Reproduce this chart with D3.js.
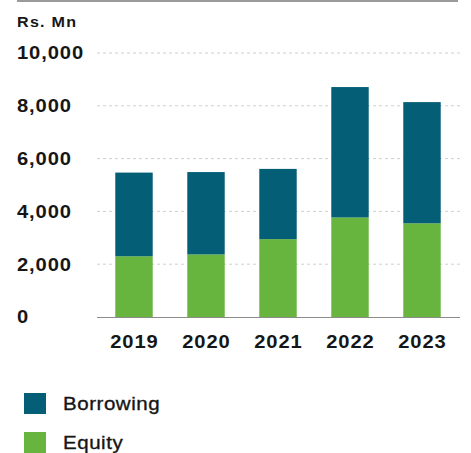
<!DOCTYPE html>
<html>
<head>
<meta charset="utf-8">
<script src="https://cdn.jsdelivr.net/npm/d3@7"></script>
<style>
  html, body { margin: 0; padding: 0; background: #fff; }
  svg { display: block; }
  text { font-family: "Liberation Sans", Arial, sans-serif; fill: #161616; }
</style>
</head>
<body>
<svg id="chart" width="471" height="453"></svg>
<script>
// Capital structure, Rs. Mn
const years = ["2019", "2020", "2021", "2022", "2023"];
const equity = [2300, 2370, 2950, 3770, 3550];
const borrowing = [3170, 3120, 2660, 4940, 4590];
const yTicks = [0, 2000, 4000, 6000, 8000, 10000];
const seriesNames = ["Borrowing", "Equity"];
const seriesColors = ["#045e75", "#67b43e"];

// the typeface is set a little wide, so glyphs are stretched horizontally
const WIDE = 1.12;

const svg = d3.select("#chart");

const x = d3.scaleBand()
  .domain(years)
  .range([98, 458])
  .paddingInner(0.48)
  .paddingOuter(0.24);

const y = d3.scaleLinear()
  .domain([0, 10000])
  .range([317, 53]);

// top rule
svg.append("line")
  .attr("x1", 17).attr("x2", 458)
  .attr("y1", 1).attr("y2", 1)
  .attr("stroke", "#9a9a9a").attr("stroke-width", 2);

// unit label
svg.append("text")
  .attr("transform", "translate(17,27) scale(1.15,1)")
  .attr("font-size", 14).attr("font-weight", "bold")
  .attr("letter-spacing", 1.1)
  .text("Rs. Mn");

// dashed gridlines
svg.append("g")
  .selectAll("line")
  .data(yTicks.filter(d => d > 0))
  .join("line")
  .attr("x1", 97).attr("x2", 462)
  .attr("y1", d => y(d)).attr("y2", d => y(d))
  .attr("stroke", "#cfcfcf")
  .attr("stroke-width", 1)
  .attr("stroke-dasharray", "3,3");

// y tick labels, left aligned
const fmt = d3.format(",");
svg.append("g")
  .selectAll("text")
  .data(yTicks)
  .join("text")
  .attr("transform", d => `translate(17,${y(d)}) scale(${WIDE},1)`)
  .attr("dy", "0.36em")
  .attr("font-size", 18)
  .attr("font-weight", "bold")
  .attr("letter-spacing", 0.8)
  .text(d => fmt(d));

// stacked bars
const stackData = years.map((yr, i) => ({ year: yr, Equity: equity[i], Borrowing: borrowing[i] }));
const stack = d3.stack().keys(["Equity", "Borrowing"])(stackData);
const color = d3.scaleOrdinal().domain(seriesNames).range(seriesColors);

svg.append("g")
  .selectAll("g")
  .data(stack)
  .join("g")
  .attr("fill", s => color(s.key))
  .selectAll("rect")
  .data(s => s)
  .join("rect")
  .attr("x", d => x(d.data.year))
  .attr("width", x.bandwidth())
  .attr("y", d => y(d[1]))
  .attr("height", d => y(d[0]) - y(d[1]));

// baseline axis
const xAxis = svg.append("g")
  .attr("transform", `translate(0,${y(0)})`)
  .call(d3.axisBottom(x).tickSize(0).tickPadding(18));
xAxis.select(".domain")
  .attr("d", "M97,0.5H460")
  .attr("stroke", "#8c8c8c");
xAxis.selectAll("text")
  .attr("transform", `scale(${WIDE},1)`)
  .attr("font-family", "Liberation Sans, Arial, sans-serif")
  .attr("font-size", 18)
  .attr("font-weight", "bold")
  .attr("letter-spacing", 0.8)
  .attr("dx", 0.4)
  .attr("fill", "#161616");

// legend
const legend = svg.append("g")
  .selectAll("g")
  .data(seriesNames)
  .join("g")
  .attr("transform", (d, i) => `translate(24,${393 + i * 39})`);
legend.append("rect")
  .attr("width", 22).attr("height", 21)
  .attr("fill", d => color(d));
legend.append("text")
  .attr("transform", "translate(39,10.5) scale(1.08,1)")
  .attr("dy", "0.36em")
  .attr("font-size", 19)
  .attr("letter-spacing", 0.5)
  .attr("stroke", "#161616")
  .attr("stroke-width", 0.35)
  .text(d => d);
</script>
</body>
</html>
